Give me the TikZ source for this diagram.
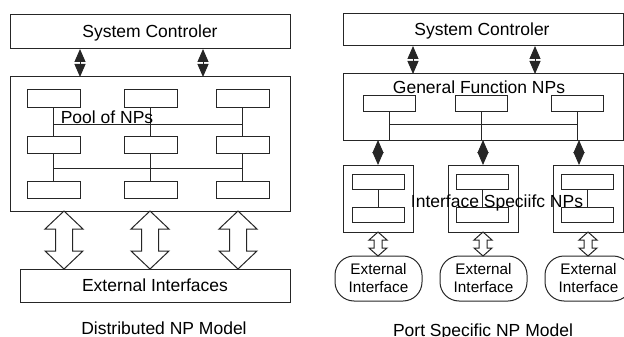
\documentclass[tikz,border=0pt]{standalone}
\usepackage{fontspec}
\setmainfont{Liberation Sans}
\usetikzlibrary{arrows.meta}
\newcommand\figfont{\fontsize{17.5}{21}\selectfont}
\newcommand\smfont{\fontsize{15.3}{18}\selectfont}
\tikzset{
  pics/bigarr/.style={code={\draw[draw=black!85,line width=1pt,fill=white] (0,0) -- (19,18) -- (8.5,18) -- (8.5,40) -- (19,40) -- (0,58) -- (-19,40) -- (-8.5,40) -- (-8.5,18) -- (-19,18) -- cycle;}},
  pics/smallarr/.style={code={\draw[draw=black!85,line width=1pt,fill=white] (0,0) -- (9,8) -- (4,8) -- (4,16) -- (9,16) -- (0,24) -- (-9,16) -- (-4,16) -- (-4,8) -- (-9,8) -- cycle;}}
}
\begin{document}
\begin{tikzpicture}[x=1pt,y=-1pt,
  box/.style={draw=black!85, line width=1pt, rectangle, inner sep=0pt, outer sep=0pt},
  npbox/.style={box, minimum width=53pt, minimum height=17pt},
  gfbox/.style={box, minimum width=52pt, minimum height=16pt},
  inbox/.style={box, minimum width=52pt, minimum height=15pt},
  ifbox/.style={box, minimum width=70pt, minimum height=67pt},
  extbox/.style={box, rounded corners=19pt, minimum width=87pt, minimum height=45pt, align=center, font=\smfont},
  lbl/.style={anchor=base, inner sep=0pt, font=\figfont},
  ln/.style={draw=black!85, line width=1pt},
  blk/.style={draw=black!85, line width=1pt, {Triangle[length=13pt,width=11pt]}-{Triangle[length=13pt,width=11pt]}}
]
\useasboundingbox (0,0) rectangle (624,337);

% ---------------- Left: Distributed NP Model ----------------
\node[box, minimum width=280pt, minimum height=34pt] (sc1) at (150,32) {};
\node[box, minimum width=280pt, minimum height=134pt] (pool) at (150,144) {};
\node[box, minimum width=270pt, minimum height=33pt] (ext) at (155,285.5) {};

\node[npbox] (p1) at (53.5,98.5) {};
\node[npbox] (p2) at (150.5,98.5) {};
\node[npbox] (p3) at (242.5,98.5) {};
\node[npbox] (p4) at (53.5,144.5) {};
\node[npbox] (p5) at (150.5,144.5) {};
\node[npbox] (p6) at (242.5,144.5) {};
\node[npbox] (p7) at (53.5,190) {};
\node[npbox] (p8) at (150.5,190) {};
\node[npbox] (p9) at (242.5,190) {};

\coordinate (bus1) at (0,124);
\coordinate (bus2) at (0,168);
\draw[ln] (p1.south) -- (p4.north);
\draw[ln] (p2.south) -- (p5.north);
\draw[ln] (p3.south) -- (p6.north);
\draw[ln] (p1.south |- bus1) -- (p3.south |- bus1);
\draw[ln] (p4.south) -- (p7.north);
\draw[ln] (p5.south) -- (p8.north);
\draw[ln] (p6.south) -- (p9.north);
\draw[ln] (p4.south |- bus2) -- (p6.south |- bus2);

\draw[blk] ([xshift=70pt]sc1.south west) -- ([xshift=70pt]pool.north west);
\draw[blk] ([xshift=193pt]sc1.south west) -- ([xshift=193pt]pool.north west);

\pic at ([xshift=54pt]pool.south west) {bigarr};
\pic at ([xshift=140pt]pool.south west) {bigarr};
\pic at ([xshift=228pt]pool.south west) {bigarr};

\node[lbl] (t1) at (150,38) {System Controler};
\node[lbl] (t2) at (107,123) {Pool of NPs};
\node[lbl] (t3) at (155,291) {External Interfaces};
\node[lbl] (t4) at (164,334.5) {Distributed NP Model};

% ---------------- Right: Port Specific NP Model ----------------
\node[box, minimum width=280pt, minimum height=32pt] (sc2) at (483,30) {};
\node[box, minimum width=280pt, minimum height=66pt] (gf) at (483,107) {};

\node[gfbox] (g1) at (389,103) {};
\node[gfbox] (g2) at (481,103) {};
\node[gfbox] (g3) at (577,103) {};
\coordinate (bus3) at (0,124);
\draw[ln] (g1.south) -- (g1.south |- gf.south);
\draw[ln] (g2.south) -- (g2.south |- gf.south);
\draw[ln] (g3.south) -- (g3.south |- gf.south);
\draw[ln] (g1.south |- bus3) -- (g3.south |- bus3);

\draw[blk] ([xshift=70pt]sc2.south west) -- ([xshift=70pt]gf.north west);
\draw[blk] ([xshift=192pt]sc2.south west) -- ([xshift=192pt]gf.north west);

\node[ifbox] (if1) at (378,198.5) {};
\node[ifbox] (if2) at (483,198.5) {};
\node[ifbox] (if3) at (588,198.5) {};

\node[inbox] (i1a) at (378,181.5) {};
\node[inbox] (i1b) at (378,215) {};
\node[inbox] (i2a) at (482.5,181.5) {};
\node[inbox] (i2b) at (482.5,215) {};
\node[inbox] (i3a) at (587.5,181.5) {};
\node[inbox] (i3b) at (587.5,215) {};
\draw[ln] (i1a.south) -- (i1b.north);
\draw[ln] (i2a.south) -- (i2b.north);
\draw[ln] (i3a.south) -- (i3b.north);

\draw[blk] ([xshift=35pt]gf.south west) -- (if1.north);
\draw[blk] (gf.south) -- (if2.north);
\draw[blk] ([xshift=236pt]gf.south west) -- ([xshift=-9pt]if3.north);

\node[extbox] (e1) at (378.5,278.5) {External\\Interface};
\node[extbox] (e2) at (483.5,278.5) {External\\Interface};
\node[extbox] (e3) at (588.5,278.5) {External\\Interface};

\pic at (if1.south) {smallarr};
\pic at (if2.south) {smallarr};
\pic at (if3.south) {smallarr};

\node[lbl] (t5) at (482,36) {System Controler};
\node[lbl] (t6) at (479,94) {General Function NPs};
\node[lbl] (t7) at (497,207) {Interface Speciifc NPs};
\node[lbl] (t8) at (483,336.5) {Port Specific NP Model};
\end{tikzpicture}
\end{document}
